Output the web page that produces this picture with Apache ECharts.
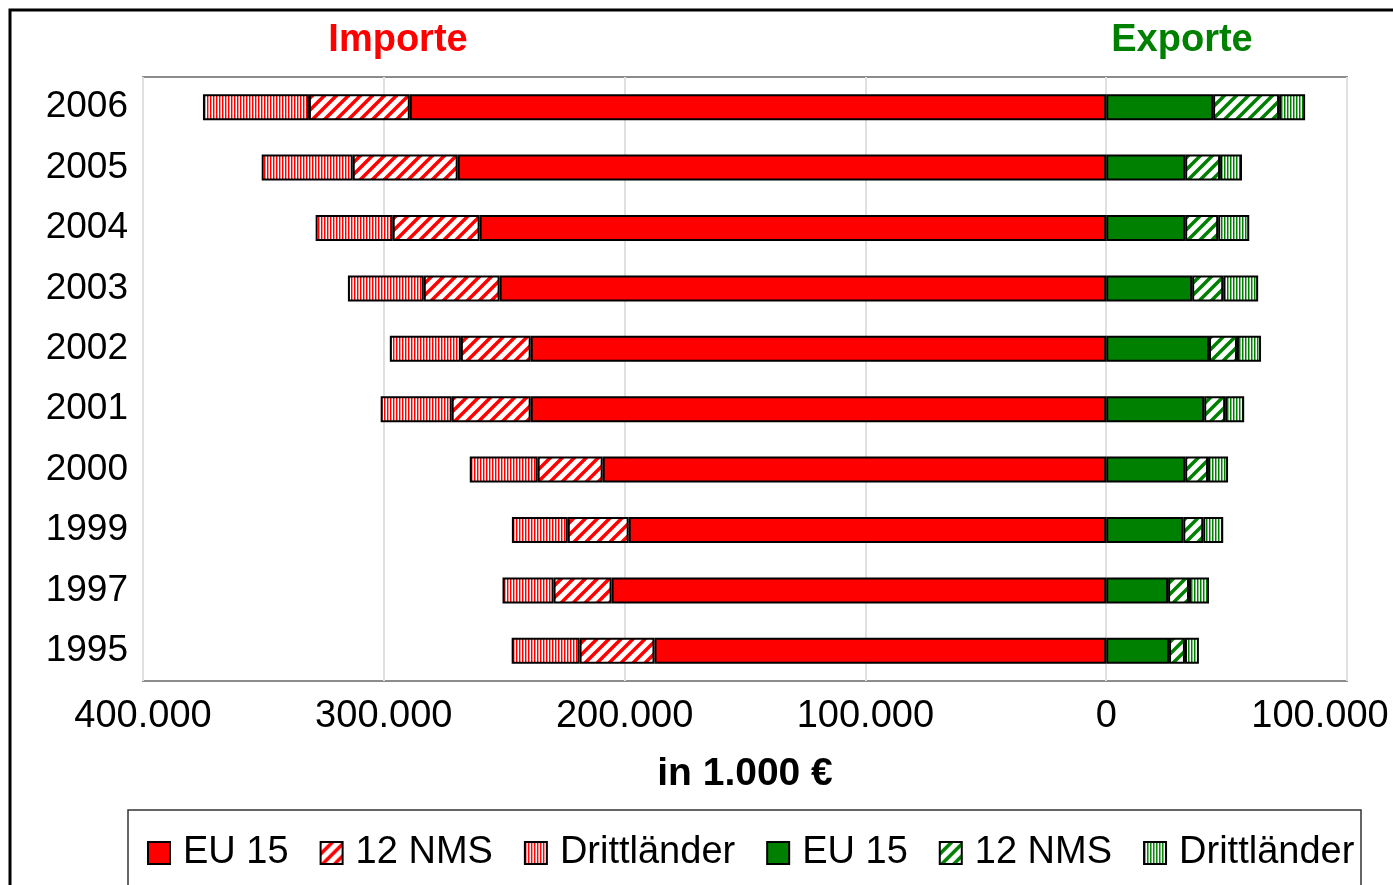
<!DOCTYPE html>
<html>
<head>
<meta charset="utf-8">
<script src="https://cdn.jsdelivr.net/npm/echarts@6/dist/echarts.min.js"></script>
<style>
  html, body { margin: 0; padding: 0; background: #fff; }
  #main { width: 1393px; height: 885px; }
</style>
</head>
<body>
<div id="main"></div>
<script>
// Werte in 1.000 €
var years = ['2006', '2005', '2004', '2003', '2002', '2001', '2000', '1999', '1997', '1995'];
var impEU15  = [289200, 269300, 260200, 251900, 239000, 239000, 209100, 198300, 205400, 187600];
var impNMS   = [41900, 43600, 36100, 31500, 29000, 32800, 27000, 25300, 24100, 31100];
var impDritt = [44000, 37800, 32000, 31500, 29500, 29500, 28200, 23200, 21200, 28200];
var expEU15  = [44400, 32800, 32800, 35700, 42700, 40700, 32800, 32000, 25700, 26100];
var expNMS   = [27400, 14500, 13700, 12900, 11600, 8700, 9500, 8300, 8700, 6600];
var expDritt = [10800, 9100, 12900, 14500, 10000, 7900, 8300, 8300, 8300, 5800];
var axisTicks = [-400000, -300000, -200000, -100000, 0, 100000];

var RED = '#ff0000', GREEN = '#008000';
var FONT = 'Liberation Sans, Arial, sans-serif';

// schraffur: diagonale streifen
function diagPattern(col) {
    var s = 12;
    var c = document.createElement('canvas');
    c.width = s; c.height = s;
    var ctx = c.getContext('2d');
    ctx.fillStyle = '#fff';
    ctx.fillRect(0, 0, s, s);
    ctx.strokeStyle = col;
    ctx.lineWidth = 3.5;
    ctx.beginPath();
    ctx.moveTo(-2, 2); ctx.lineTo(2, -2);
    ctx.moveTo(0, s); ctx.lineTo(s, 0);
    ctx.moveTo(s - 2, s + 2); ctx.lineTo(s + 2, s - 2);
    ctx.stroke();
    return { image: c, repeat: 'repeat' };
}
// senkrechte streifen
function vertPattern(col, soft) {
    var c = document.createElement('canvas');
    c.width = 3; c.height = 4;
    var ctx = c.getContext('2d');
    ctx.fillStyle = '#fff';
    ctx.fillRect(0, 0, 3, 4);
    ctx.fillStyle = col;
    ctx.fillRect(0, 0, 1, 4);
    ctx.fillStyle = soft;
    ctx.fillRect(1, 0, 1, 4);
    return { image: c, repeat: 'repeat' };
}

function neg(arr) { return arr.map(function (v) { return -v; }); }

function fmt(v) {
    return String(Math.abs(v)).replace(/\B(?=(\d{3})+(?!\d))/g, '.');
}

function bar(name, data, color) {
    return {
        name: name,
        type: 'bar',
        stack: 'all',
        barWidth: 26,
        data: data,
        itemStyle: { color: color, borderColor: '#000', borderWidth: 2 },
        emphasis: { disabled: true }
    };
}

var chart = echarts.init(document.getElementById('main'));
chart.setOption({
    animation: false,
    backgroundColor: '#fff',
    textStyle: { fontFamily: FONT },
    grid: {
        left: 143, right: 46, top: 77, bottom: 204,
        show: true, borderColor: '#8c8c8c', borderWidth: 2
    },
    xAxis: {
        type: 'value',
        min: axisTicks[0], max: axisTicks[axisTicks.length - 1], interval: 100000,
        axisLine: { show: false },
        axisTick: { show: false },
        splitLine: { show: true, lineStyle: { color: '#e0e0e0', width: 2 } },
        axisLabel: {
            color: '#000', fontSize: 38, fontFamily: FONT, margin: 17,
            formatter: function (v) {
                if (v === 100000) return '{last|' + fmt(v) + '}';
                return fmt(v);
            },
            rich: { last: { fontSize: 38, fontFamily: FONT, color: '#000', padding: [0, 54, 0, 0] } }
        },
        name: 'in 1.000 €',
        nameLocation: 'middle',
        nameGap: 74,
        nameTextStyle: { color: '#000', fontSize: 39, fontWeight: 'bold', fontFamily: FONT }
    },
    yAxis: {
        type: 'category',
        data: years,
        inverse: true,
        axisLine: { show: false },
        axisTick: { show: false },
        axisLabel: { color: '#000', fontSize: 37, fontFamily: FONT, margin: 15 }
    },
    legend: {
        left: 147,
        top: 834,
        width: 1240,
        icon: 'rect',
        itemWidth: 22,
        itemHeight: 22,
        itemGap: 31,
        padding: 0,
        selectedMode: false,
        // export-reihen tragen ein leerzeichen im namen, damit die legende sie getrennt führt
        formatter: function (name) { return name.trim(); },
        textStyle: { color: '#000', fontSize: 38, fontFamily: FONT, padding: [0, 0, 0, 8] },
        data: ['EU 15', '12 NMS', 'Drittländer', 'EU 15 ', '12 NMS ', 'Drittländer ']
    },
    graphic: [
        { type: 'rect', shape: { x: 10, y: 10, width: 1400, height: 900 },
          style: { fill: null, stroke: '#000', lineWidth: 3 }, silent: true },
        { type: 'rect', shape: { x: 128, y: 810, width: 1233, height: 100 },
          style: { fill: null, stroke: '#333', lineWidth: 1.5 }, silent: true },
        { type: 'text', x: 398, y: 41,
          style: { text: 'Importe', fill: RED, font: 'bold 38px ' + FONT, align: 'center', verticalAlign: 'middle' } },
        { type: 'text', x: 1182, y: 41,
          style: { text: 'Exporte', fill: GREEN, font: 'bold 38px ' + FONT, align: 'center', verticalAlign: 'middle' } }
    ],
    series: [
        bar('EU 15', neg(impEU15), RED),
        bar('12 NMS', neg(impNMS), diagPattern(RED)),
        bar('Drittländer', neg(impDritt), vertPattern(RED, '#ff8c8c')),
        bar('EU 15 ', expEU15, GREEN),
        bar('12 NMS ', expNMS, diagPattern(GREEN)),
        bar('Drittländer ', expDritt, vertPattern(GREEN, '#80c080'))
    ]
});
</script>
</body>
</html>
